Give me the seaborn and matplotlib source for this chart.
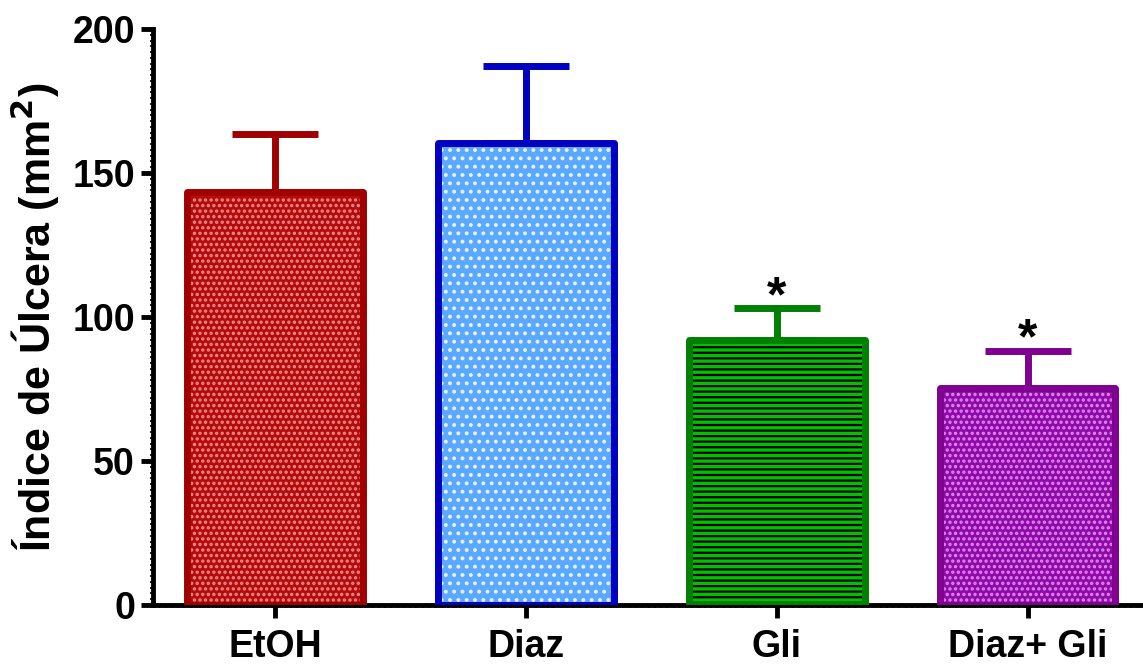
import numpy as np
import pandas as pd
import seaborn as sns
import matplotlib
matplotlib.use("Agg")
import matplotlib.pyplot as plt
from matplotlib.ticker import MultipleLocator, FixedLocator

# Data
groups = ["EtOH", "Diaz", "Gli", "Diaz+ Gli"]
means = [143.5, 160.5, 92.0, 75.5]
sems = [20.0, 26.5, 11.0, 12.7]
significant = [False, False, True, True]

edge_colors = ["#a00000", "#0000c0", "#008000", "#800090"]
face_colors = ["#b80a0a", "#5aa8ff", "#00c000", "#9208ac"]
hatch_colors = ["#e89090", "#e8f2ff", "#000000", "#d890e6"]
hatches = ["...", "..", "---", "..."]

sns.set_style("ticks")
plt.rcParams["font.family"] = ["Liberation Sans", "DejaVu Sans"]
plt.rcParams["font.weight"] = "bold"
plt.rcParams["hatch.linewidth"] = 1.6
plt.rcParams["text.color"] = "black"
plt.rcParams["axes.labelcolor"] = "black"
plt.rcParams["xtick.color"] = "black"
plt.rcParams["ytick.color"] = "black"
plt.rcParams["axes.edgecolor"] = "black"

df = pd.DataFrame({"group": groups, "mean": means})

fig = plt.figure(figsize=(11.43, 6.68), dpi=100)
ax = fig.add_axes([153 / 1143, 1 - 605 / 668, 1 - 153 / 1143, (605 - 29) / 668])

sns.barplot(data=df, x="group", y="mean", order=groups, ax=ax,
            width=0.70, errorbar=None, saturation=1, zorder=2)

# Fill with hatch pattern
for patch, fc, hc, h in zip(ax.patches, face_colors, hatch_colors, hatches):
    patch.set_facecolor(fc)
    patch.set_edgecolor(hc)
    patch.set_hatch(h)
    patch.set_linewidth(0)

x = np.arange(len(groups))
# Thick coloured border on top of each bar
ax.bar(x, means, width=0.70, fill=False, edgecolor=edge_colors,
       linewidth=5, zorder=3, joinstyle="round")

# Upper error bars
for xi, m, s, c in zip(x, means, sems, edge_colors):
    ax.errorbar(xi, m, yerr=[[0], [s]], fmt="none", ecolor=c,
                elinewidth=5, capsize=31, capthick=5, zorder=1)

# Significance markers
for xi, m, s, sig in zip(x, means, sems, significant):
    if sig:
        ax.annotate("*", (xi, m + s), xytext=(0, -9), textcoords="offset points",
                    ha="center", va="bottom", fontsize=36, fontweight="bold",
                    color="black")

ax.set_xlim(-0.486, 3.46)
ax.set_ylim(0, 200)
ax.yaxis.set_major_locator(MultipleLocator(50))
ax.yaxis.set_minor_locator(MultipleLocator(2))
ax.xaxis.set_minor_locator(FixedLocator(np.arange(-0.486, 3.46, 0.025)))

sns.despine(ax=ax)
for side in ["left", "bottom"]:
    ax.spines[side].set_linewidth(3.5)

ax.tick_params(axis="both", which="major", length=9, width=3.5,
               labelsize=27, pad=4)
ax.tick_params(axis="both", which="minor", length=2.5, width=1.2)
ax.tick_params(axis="x", labelsize=27, pad=8)

ax.set_xlabel("")
ax.set_ylabel("Índice de Úlcera (mm$^{\\mathbf{2}}$)", fontsize=31,
              fontweight="bold", labelpad=8)
for lbl in ax.get_xticklabels() + ax.get_yticklabels():
    lbl.set_fontweight("bold")

fig.savefig("out.png", dpi=100)
